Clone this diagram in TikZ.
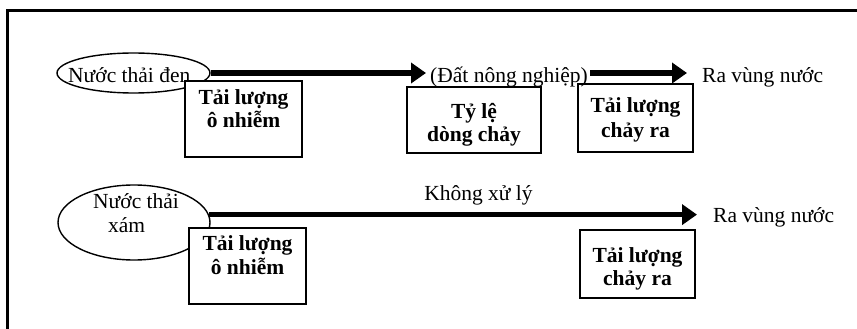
\documentclass[tikz,border=0pt]{standalone}
\usepackage{fontspec}
\setmainfont{Liberation Serif}
\usetikzlibrary{arrows.meta,shapes.geometric}

\tikzset{
  txt/.style={inner sep=0pt, anchor=base, font=\fontsize{21.5pt}{24pt}\selectfont},
  txtl/.style={txt, anchor=base west},
  btxt/.style={txt, font=\fontsize{21.5pt}{24pt}\selectfont\bfseries},
  oval/.style={ellipse, draw, line width=1.4pt, inner sep=0pt},
  loadbox/.style={rectangle, draw, line width=1.8pt, fill=white, inner sep=0pt},
  flow/.style={line width=5.5pt, -{Triangle[length=15pt,width=20pt]}},
  frameline/.style={line width=3pt}
}

\begin{document}
\begin{tikzpicture}[x=1pt, y=-1pt]
\useasboundingbox (0,0) rectangle (857,329);

% outer frame (top and left edges)
\draw[frameline] (7,329) -- (7,11) -- (857,11);

% sources
\node[oval, minimum width=153pt, minimum height=40pt] (e1) at (133.5,73) {};
\node[oval, minimum width=152pt, minimum height=75pt] (e2) at (134,222.5) {};

% boxes
\node[loadbox, minimum width=117pt, minimum height=76pt] (b1) at (243.5,119) {};
\node[loadbox, minimum width=134pt, minimum height=66pt] (b2) at (474,120) {};
\node[loadbox, minimum width=115pt, minimum height=68pt] (b3) at (635.5,118) {};
\node[loadbox, minimum width=117pt, minimum height=76pt] (b4) at (247.5,266) {};
\node[loadbox, minimum width=115pt, minimum height=68pt] (b5) at (637.5,264) {};

% row 1 labels
\node[txtl] (t1) at (68,82) {Nước thải đen};
\node[txtl] (dat) at (430,82) {(Đất nông nghiệp)};
\node[txtl] (ra1) at (702,82) {Ra vùng nước};

% row 2 labels
\node[txtl] (t2a) at (93,208) {Nước thải};
\node[txtl] (t2b) at (108,232) {xám};
\node[txt] (kx) at (478.5,200) {Không xử lý};
\node[txtl] (ra2) at (713,222) {Ra vùng nước};

% box texts
\node[btxt] (b1a) at (b1.center |- 0,104) {Tải lượng};
\node[btxt] (b1b) at (b1.center |- 0,128) {ô nhiễm};
\node[btxt] (b2a) at (b2.center |- 0,118) {Tỷ lệ};
\node[btxt] (b2b) at (b2.center |- 0,141) {dòng chảy};
\node[btxt] (b3a) at (b3.center |- 0,113) {Tải lượng};
\node[btxt] (b3b) at (b3.center |- 0,137) {chảy ra};
\node[btxt] (b4a) at (b4.center |- 0,250) {Tải lượng};
\node[btxt] (b4b) at (b4.center |- 0,274) {ô nhiễm};
\node[btxt] (b5a) at (b5.center |- 0,262) {Tải lượng};
\node[btxt] (b5b) at (b5.center |- 0,285) {chảy ra};

% flows
\draw[flow, shorten >=4pt] (e1.east) -- (e1.east -| dat.west);
\draw[flow, shorten <=2pt, shorten >=15pt] (e1.east -| dat.east) -- (e1.east -| ra1.west);
\draw[flow, shorten >=16pt] (e2.6) -- (e2.6 -| ra2.west);
\end{tikzpicture}
\end{document}
